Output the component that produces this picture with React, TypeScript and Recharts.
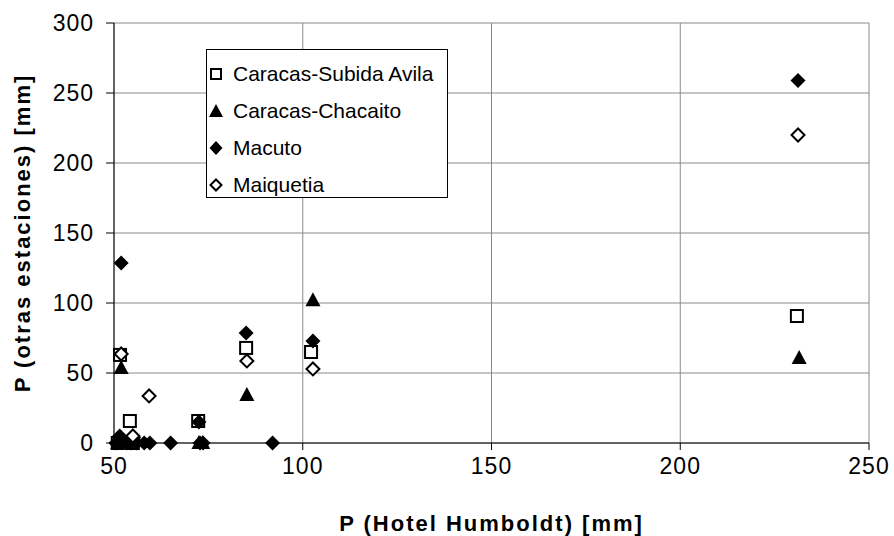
import React from "react";
import {
  ScatterChart,
  Scatter,
  XAxis,
  YAxis,
  CartesianGrid,
  Legend,
  Label,
} from "recharts";

interface Pt {
  x: number;
  y: number;
}

const subidaAvila: Pt[] = [
  { x: 51.6, y: 62.9 },
  { x: 54.2, y: 15.7 },
  { x: 72.3, y: 15.7 },
  { x: 85.0, y: 67.9 },
  { x: 102.2, y: 65.0 },
  { x: 230.9, y: 90.7 },
  { x: 51.0, y: 0 },
  { x: 55.0, y: 0 },
];

const chacaito: Pt[] = [
  { x: 51.9, y: 53.6 },
  { x: 85.2, y: 34.3 },
  { x: 102.7, y: 102 },
  { x: 231.5, y: 60.7 },
  { x: 51.0, y: 0 },
  { x: 53.5, y: 0 },
  { x: 72.5, y: 0 },
  { x: 73.5, y: 0 },
];

const macuto: Pt[] = [
  { x: 51.9, y: 128.6 },
  { x: 85.0, y: 78.6 },
  { x: 102.7, y: 72.9 },
  { x: 231.2, y: 259 },
  { x: 72.5, y: 15.0 },
  { x: 50.5, y: 0 },
  { x: 51.5, y: 5 },
  { x: 52.5, y: 2 },
  { x: 53.2, y: 0 },
  { x: 54.5, y: 0 },
  { x: 55.2, y: 4 },
  { x: 56.0, y: 0 },
  { x: 58.0, y: 0 },
  { x: 59.5, y: 0 },
  { x: 65.0, y: 0 },
  { x: 72.8, y: 0 },
  { x: 73.6, y: 0 },
  { x: 92.0, y: 0 },
];

const maiquetia: Pt[] = [
  { x: 51.9, y: 63.6 },
  { x: 59.3, y: 33.6 },
  { x: 85.2, y: 58.6 },
  { x: 102.7, y: 52.9 },
  { x: 231.2, y: 220 },
  { x: 55.0, y: 5 },
];

const xTicks = [50, 100, 150, 200, 250];
const yTicks = [0, 50, 100, 150, 200, 250, 300];

const seriesNames = [
  "Caracas-Subida Avila",
  "Caracas-Chacaito",
  "Macuto",
  "Maiquetia",
];

const FONT = "Arial, 'Liberation Sans', sans-serif";

const SquareShape = (props: any) => {
  const { cx, cy } = props;
  return (
    <rect x={cx - 6} y={cy - 6} width={12} height={12} fill="#fff" stroke="#000" strokeWidth={2} />
  );
};

const TriangleShape = (props: any) => {
  const { cx, cy } = props;
  return <path d={`M${cx},${cy - 8}L${cx + 7.5},${cy + 6}L${cx - 7.5},${cy + 6}Z`} fill="#000" />;
};

const DiamondShape = (props: any) => {
  const { cx, cy } = props;
  return <path d={`M${cx},${cy - 7.5}L${cx + 7.5},${cy}L${cx},${cy + 7.5}L${cx - 7.5},${cy}Z`} fill="#000" />;
};

const OpenDiamondShape = (props: any) => {
  const { cx, cy } = props;
  return (
    <path
      d={`M${cx},${cy - 6.5}L${cx + 6.5},${cy}L${cx},${cy + 6.5}L${cx - 6.5},${cy}Z`}
      fill="#fff"
      stroke="#000"
      strokeWidth={2}
    />
  );
};

const legendIcon = (i: number) => {
  if (i === 0) return <rect x={2} y={2} width={10} height={10} fill="#fff" stroke="#000" strokeWidth={2} />;
  if (i === 1) return <path d="M7,0L14,13L0,13Z" fill="#000" />;
  if (i === 2) return <path d="M7,0L13.5,7L7,14L0.5,7Z" fill="#000" />;
  return <path d="M7,1.5L12.5,7L7,12.5L1.5,7Z" fill="#fff" stroke="#000" strokeWidth={2} />;
};

const CustomLegend = () => (
  <div
    style={{
      width: 242,
      height: 149,
      border: "1px solid #000",
      background: "#fff",
      boxSizing: "border-box",
      paddingTop: 5,
      fontFamily: FONT,
      fontSize: 21,
      color: "#000",
      whiteSpace: "nowrap",
    }}
  >
    {seriesNames.map((name, i) => (
      <div key={name} style={{ display: "flex", alignItems: "center", height: 37, paddingLeft: 2 }}>
        <svg width={14} height={14} style={{ marginRight: 10, flexShrink: 0 }}>
          {legendIcon(i)}
        </svg>
        <span>{name}</span>
      </div>
    ))}
  </div>
);

export default function App() {
  return (
    <div style={{ position: "absolute", left: 0, top: 0, width: 894, height: 536, background: "#fff" }}>
      <ScatterChart
        width={894}
        height={536}
        margin={{ top: 23, right: 25, left: 44, bottom: 53 }}
      >
        <CartesianGrid stroke="#8a8a8a" strokeWidth={1} />
        <XAxis
          type="number"
          dataKey="x"
          domain={[50, 250]}
          ticks={xTicks}
          height={40}
          axisLine={{ stroke: "#000" }}
          tickLine={{ stroke: "#000" }}
          tickSize={7}
          tickMargin={8}
          tick={{ fontSize: 23, fill: "#000", fontFamily: FONT, letterSpacing: 1 }}
          interval={0}
        >
          <Label
            value="P (Hotel Humboldt) [mm]"
            position="bottom"
            offset={32}
            style={{ fontSize: 22, fontWeight: "bold", fill: "#000", fontFamily: FONT, letterSpacing: 2 }}
          />
        </XAxis>
        <YAxis
          type="number"
          dataKey="y"
          domain={[0, 300]}
          ticks={yTicks}
          width={70}
          axisLine={{ stroke: "#000" }}
          tickLine={{ stroke: "#000" }}
          tickSize={8}
          tickMargin={12}
          tick={{ fontSize: 23, fill: "#000", fontFamily: FONT, letterSpacing: 1 }}
          interval={0}
        >
          <Label
            value="P (otras estaciones) [mm]"
            angle={-90}
            position="insideLeft"
            offset={-22}
            style={{ fontSize: 22, fontWeight: "bold", fill: "#000", fontFamily: FONT, letterSpacing: 2, textAnchor: "middle" }}
          />
        </YAxis>
        <Legend
          layout="vertical"
          align="center"
          verticalAlign="middle"
          content={<CustomLegend />}
          wrapperStyle={{ left: 206, top: 49, width: 242, height: 149 }}
        />
        <Scatter name={seriesNames[0]} data={subidaAvila} shape={SquareShape} isAnimationActive={false} />
        <Scatter name={seriesNames[1]} data={chacaito} shape={TriangleShape} isAnimationActive={false} />
        <Scatter name={seriesNames[2]} data={macuto} shape={DiamondShape} isAnimationActive={false} />
        <Scatter name={seriesNames[3]} data={maiquetia} shape={OpenDiamondShape} isAnimationActive={false} />
      </ScatterChart>
    </div>
  );
}
